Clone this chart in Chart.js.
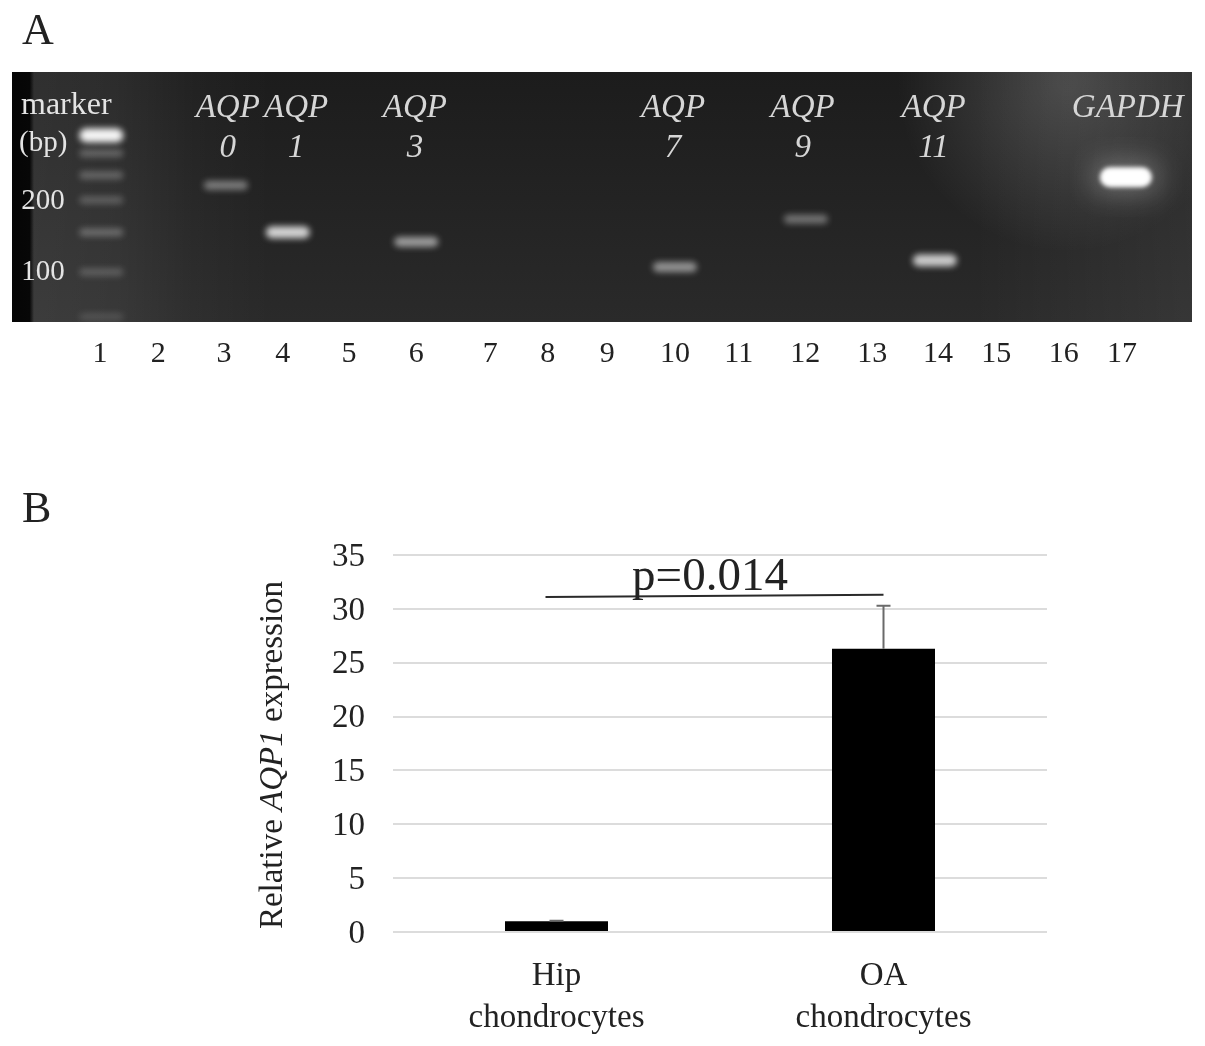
<!DOCTYPE html>
<html>
<head>
<meta charset="utf-8">
<title>AQP expression</title>
<script src="https://cdn.jsdelivr.net/npm/chart.js@4"></script>
<style>
  html, body { margin: 0; padding: 0; background: #fff; }
  #page { position: relative; width: 1205px; height: 1046px; overflow: hidden; }
  canvas { position: absolute; left: 0; }
  #gel { top: 0; }
  #bars { top: 480px; }
  .letter { position: absolute; font: 44px 'Liberation Serif', serif; color: #222; line-height: 1; }
</style>
</head>
<body>
<div id="page">
  <canvas id="gel" width="1205" height="400"></canvas>
  <canvas id="bars" width="1205" height="566"></canvas>
  <div class="letter" style="left:22px;top:8px">A</div>
  <div class="letter" style="left:22px;top:486px">B</div>
</div>
<script>
// Panel A: lanes measured in mean lane spacings, band sizes in bp
const laneLabels = ['1','2','3','4','5','6','7','8','9','10','11','12','13','14','15','16','17'];
const lanePositions = [1, 1.91, 2.94, 3.86, 4.9, 5.95, 7.11, 8.01, 8.94, 10, 11, 12.04, 13.09, 14.12, 15.03, 16.09, 17];

const ladderSizes = [376, 316, 255, 200, 146, 99, 64];
const ladderBrightness = [0.95, 0.26, 0.26, 0.22, 0.28, 0.2, 0.14];

const bandNames = ['AQP 0', 'AQP 1', 'AQP 3', 'AQP 7', 'AQP 9', 'AQP 11', 'GAPDH'];
const bandLanes = [2.97, 3.94, 5.95, 10, 12.05, 14.07, 17.06];
const bandSizes = [231, 146, 133, 104, 166, 111, 250];
const bandBrightness = [0.4, 0.8, 0.55, 0.5, 0.36, 0.76, 1];

const geneLabels = ['AQP', 'AQP', 'AQP', 'AQP', 'AQP', 'AQP'];
const geneNumbers = ['0', '1', '3', '7', '9', '11'];
const geneLanes = [3, 4.07, 5.93, 9.97, 12, 14.05];

// Panel B
const groups = [['Hip', 'chondrocytes'], ['OA', 'chondrocytes']];
const expression = [1, 26.3];
const expressionErr = [0.05, 4];
const yTicks = [0, 5, 10, 15, 20, 25, 30, 35];

const SERIF = "'Liberation Serif', 'Times New Roman', serif";

// blurred band sprite, used as the point style of a lane
function bandSprite(brightness, wide) {
  const w = wide ? 52 : 44;
  const h = brightness >= 1 ? 20 : Math.round(6 + brightness * 8);
  const c = document.createElement('canvas');
  c.width = w + 60;
  c.height = h + 60;
  const ctx = c.getContext('2d');
  ctx.filter = brightness >= 1 ? 'blur(2px)' : 'blur(3px)';
  ctx.fillStyle = `rgba(255,255,255,${brightness})`;
  ctx.beginPath();
  ctx.roundRect(30, 30, w, h, h / 2);
  ctx.fill();
  if (brightness >= 1) {
    ctx.filter = 'blur(14px)';
    ctx.fillStyle = 'rgba(255,255,255,0.28)';
    ctx.fillRect(24, 24, w + 12, h + 12);
  }
  return c;
}

const gelBackground = {
  id: 'gelBackground',
  beforeDatasetsDraw(chart) {
    const { ctx, chartArea: a } = chart;
    const w = a.right - a.left, h = a.bottom - a.top;
    ctx.save();
    ctx.beginPath();
    ctx.rect(a.left, a.top, w, h);
    ctx.clip();

    let g = ctx.createLinearGradient(0, a.top, 0, a.bottom);
    g.addColorStop(0, '#1c1c1c');
    g.addColorStop(0.5, '#232323');
    g.addColorStop(1, '#2a2a2a');
    ctx.fillStyle = g;
    ctx.fillRect(a.left, a.top, w, h);

    // lighter left side with the ladder lane
    g = ctx.createLinearGradient(a.left, 0, a.left + 260, 0);
    g.addColorStop(0, 'rgba(255,255,255,0.09)');
    g.addColorStop(0.4, 'rgba(255,255,255,0.07)');
    g.addColorStop(0.7, 'rgba(255,255,255,0.025)');
    g.addColorStop(1, 'rgba(255,255,255,0)');
    ctx.fillStyle = g;
    ctx.fillRect(a.left, a.top, 260, h);

    // glow on the right side
    g = ctx.createRadialGradient(a.right - 125, a.top + 10, 10, a.right - 125, a.top + 10, 170);
    g.addColorStop(0, 'rgba(255,255,255,0.18)');
    g.addColorStop(1, 'rgba(255,255,255,0)');
    ctx.fillStyle = g;
    ctx.fillRect(a.right - 330, a.top, 330, h);
    g = ctx.createLinearGradient(a.right - 220, 0, a.right, 0);
    g.addColorStop(0, 'rgba(255,255,255,0)');
    g.addColorStop(1, 'rgba(255,255,255,0.06)');
    ctx.fillStyle = g;
    ctx.fillRect(a.right - 220, a.top, 220, h);

    // black edge of the photo
    g = ctx.createLinearGradient(a.left, 0, a.left + 22, 0);
    g.addColorStop(0, '#050505');
    g.addColorStop(0.8, '#070707');
    g.addColorStop(1, 'rgba(5,5,5,0)');
    ctx.fillStyle = g;
    ctx.fillRect(a.left, a.top, 22, h);
    ctx.restore();
  },
};

const gelLabels = {
  id: 'gelLabels',
  afterDraw(chart) {
    const { ctx, chartArea: a, scales: { x, y } } = chart;
    ctx.save();
    ctx.textBaseline = 'middle';
    ctx.fillStyle = '#d6d6d6';
    ctx.textAlign = 'center';
    ctx.font = 'italic 33px ' + SERIF;
    geneLabels.forEach((t, i) => {
      const px = x.getPixelForValue(geneLanes[i]);
      ctx.fillText(t, px, a.top + 36);
      ctx.fillText(geneNumbers[i], px, a.top + 76);
    });
    ctx.fillText('GAPDH', x.getPixelForValue(17.09), a.top + 36);

    ctx.fillStyle = '#e4e4e4';
    ctx.textAlign = 'left';
    ctx.font = '32px ' + SERIF;
    ctx.fillText('marker', 21, a.top + 34);
    ctx.font = '29px ' + SERIF;
    ctx.fillText('(bp)', 19, a.top + 71);
    ctx.textAlign = 'center';
    ctx.fillText('200', 43, y.getPixelForValue(200) + 1);
    ctx.fillText('100', 43, y.getPixelForValue(100) + 1);
    ctx.restore();
  },
};

new Chart(document.getElementById('gel'), {
  type: 'scatter',
  data: {
    datasets: [
      {
        label: 'Ladder',
        data: ladderSizes.map(s => ({ x: 1.02, y: s })),
        pointStyle: ladderBrightness.map(b => bandSprite(b, false)),
        pointRadius: 1,
      },
      {
        label: 'Bands',
        data: bandSizes.map((s, i) => ({ x: bandLanes[i], y: s })),
        pointStyle: bandBrightness.map(b => bandSprite(b, b >= 1)),
        pointRadius: 1,
      },
    ],
  },
  options: {
    responsive: false,
    animation: false,
    layout: { padding: { left: 12, right: 13, top: 72, bottom: 0 } },
    plugins: { legend: { display: false }, tooltip: { enabled: false } },
    scales: {
      x: {
        type: 'linear',
        min: -0.378,
        max: 18.096,
        grid: { display: false, drawTicks: false },
        border: { display: false },
        afterBuildTicks: s => { s.ticks = lanePositions.map(v => ({ value: v })); },
        afterFit: s => { s.height = 78; },
        ticks: {
          autoSkip: false,
          maxRotation: 0,
          padding: 14,
          color: '#222',
          font: { size: 30, family: SERIF },
          callback: (v, i) => laneLabels[i],
        },
      },
      y: { type: 'logarithmic', min: 60.8, max: 698, display: false },
    },
  },
  plugins: [gelBackground, gelLabels],
});

const barExtras = {
  id: 'barExtras',
  afterDatasetsDraw(chart) {
    const { ctx, scales: { x, y } } = chart;
    ctx.save();
    // error bars
    ctx.strokeStyle = '#6a6a6a';
    ctx.lineWidth = 2;
    expression.forEach((v, i) => {
      const px = x.getPixelForValue(i);
      const top = y.getPixelForValue(v + expressionErr[i]);
      ctx.beginPath();
      ctx.moveTo(px, y.getPixelForValue(v));
      ctx.lineTo(px, top);
      ctx.moveTo(px - 7, top);
      ctx.lineTo(px + 7, top);
      ctx.stroke();
    });
    // significance line
    ctx.strokeStyle = '#2a2a2a';
    ctx.beginPath();
    ctx.moveTo(x.getPixelForValue(0) - 11, y.getPixelForValue(31.1));
    ctx.lineTo(x.getPixelForValue(1), y.getPixelForValue(31.3));
    ctx.stroke();

    ctx.fillStyle = '#222';
    ctx.font = '47px ' + SERIF;
    ctx.textAlign = 'center';
    ctx.textBaseline = 'alphabetic';
    ctx.fillText('p=0.014', 710, y.getPixelForValue(31.3) - 5);

    // y axis title, gene name in italics
    const parts = [['Relative ', ''], ['AQP1', 'italic '], [' expression', '']];
    const fonts = parts.map(p => p[1] + '33px ' + SERIF);
    const widths = parts.map((p, i) => { ctx.font = fonts[i]; return ctx.measureText(p[0]).width; });
    const total = widths.reduce((a, b) => a + b, 0);
    ctx.translate(273, 275);
    ctx.rotate(-Math.PI / 2);
    ctx.textAlign = 'left';
    ctx.textBaseline = 'middle';
    let cx = -total / 2;
    parts.forEach((p, i) => {
      ctx.font = fonts[i];
      ctx.fillText(p[0], cx, 0);
      cx += widths[i];
    });
    ctx.restore();
  },
};

new Chart(document.getElementById('bars'), {
  type: 'bar',
  data: {
    labels: groups,
    datasets: [{
      label: 'Relative AQP1 expression',
      data: expression,
      backgroundColor: '#000',
      barPercentage: 0.315,
      categoryPercentage: 1,
    }],
  },
  options: {
    responsive: false,
    animation: false,
    layout: { padding: { left: 0, right: 158, top: 75, bottom: 0 } },
    plugins: { legend: { display: false }, tooltip: { enabled: false } },
    scales: {
      x: {
        grid: { display: false, drawTicks: false },
        border: { display: false },
        afterFit: s => { s.height = 114; },
        ticks: {
          padding: 24,
          maxRotation: 0,
          color: '#222',
          font: { size: 33, family: SERIF, lineHeight: 1.25 },
        },
      },
      y: {
        min: 0,
        max: 35,
        grid: { color: '#dcdcdc', lineWidth: 2, drawTicks: false },
        border: { display: false },
        afterBuildTicks: s => { s.ticks = yTicks.map(v => ({ value: v })); },
        afterFit: s => { s.width = 393; },
        ticks: {
          padding: 28,
          labelOffset: 2,
          color: '#222',
          font: { size: 33, family: SERIF },
        },
      },
    },
  },
  plugins: [barExtras],
});
</script>
</body>
</html>
